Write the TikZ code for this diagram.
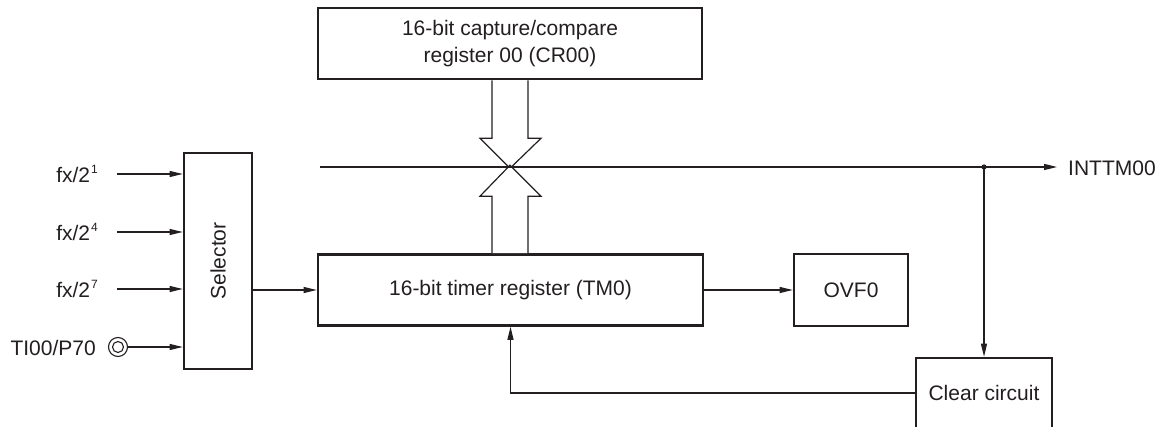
\documentclass[tikz,border=0pt]{standalone}
\usepackage{fontspec}
\setmainfont{Liberation Sans}
\usetikzlibrary{arrows.meta,calc}
\definecolor{ink}{HTML}{231F20}
\newcommand{\supnum}[1]{\kern1pt\raisebox{9pt}{\fontsize{12}{12}\selectfont #1}}
\begin{document}
\begin{tikzpicture}[x=1pt,y=-1pt,
  every node/.style={font=\fontsize{21}{27}\selectfont, text=ink},
  blk/.style={draw=ink, line width=2.6pt, inner sep=0pt, align=center},
  wire/.style={draw=ink, line width=1.2pt},
  arr/.style={wire, -{Triangle[length=13pt,width=6pt]}},
  hollow/.style={draw=ink, line width=1.2pt, fill=white, line join=miter}]
\clip (0,0) rectangle (1164,427);
\fill[white] (0,0) rectangle (1164,427);
% blocks
\node[blk, minimum width=384pt, minimum height=71pt] (cr) at (510,43.5) {16-bit capture/compare\\register 00 (CR00)};
\node[blk, minimum width=385pt, minimum height=71pt] (tm) at (510.5,290) {16-bit timer register (TM0)};
\node[blk, minimum width=114pt, minimum height=72pt] (ovf) at (851,290) {OVF0};
\node[blk, minimum width=68pt, minimum height=216pt] (sel) at (218,261) {};
\node[rotate=90] (seltxt) at (sel.center) {Selector};
\node[blk, minimum width=136pt, minimum height=70pt] (clr) at (984,393) {Clear circuit};
% hollow bus arrows
\draw[hollow] ($(cr.south)+(-18,0)$) -- ($(cr.south)+(-18,58)$) -- ($(cr.south)+(-30,58)$) -- ($(cr.south)+(0,88)$) coordinate (x)
  -- ($(cr.south)+(31,58)$) -- ($(cr.south)+(18,58)$) -- ($(cr.south)+(18,0)$);
\draw[hollow] ($(tm.north)+(-18.5,0)$) -- ($(tm.north)+(-18.5,-57)$) -- ($(tm.north)+(-30.5,-57)$) -- ($(tm.north)+(-0.5,-88)$)
  -- ($(tm.north)+(30.5,-57)$) -- ($(tm.north)+(17.5,-57)$) -- ($(tm.north)+(17.5,0)$);
% main horizontal line
\coordinate (hstart) at (320,167);
\coordinate (j) at (clr.north |- hstart);
\coordinate (oute) at (1057,167);
\draw[wire] (hstart) -- (j);
\draw[arr] (j) -- (oute);
\fill[ink] (j) circle (2.6pt);
\node[anchor=west, inner sep=0pt] (int) at (1068,168) {INTTM00};
\draw[arr] (j) -- (clr.north);
% feedback
\draw[arr] (clr.west) -| (tm.south);
% selector -> tm, tm -> ovf
\draw[arr] (sel.east |- tm.west) -- (tm.west);
\draw[arr] (tm.east) -- (ovf.west);
% inputs
\coordinate (i1) at (117,174);
\coordinate (i2) at (117,232);
\coordinate (i3) at (117,289);
\draw[arr] (i1) -- (sel.west |- i1);
\draw[arr] (i2) -- (sel.west |- i2);
\draw[arr] (i3) -- (sel.west |- i3);
\node[anchor=south east, inner sep=0pt] (l1) at (98,183) {fx/2\supnum{1}};
\node[anchor=south east, inner sep=0pt] (l2) at (98,241) {fx/2\supnum{4}};
\node[anchor=south east, inner sep=0pt] (l3) at (98,298) {fx/2\supnum{7}};
\node[draw=ink, line width=1.1pt, circle, minimum size=19pt, inner sep=0pt] (pin) at (118,347) {};
\draw[ink, line width=1.1pt] (pin.center) circle (5.5pt);
\draw[arr] (pin.east) -- (sel.west |- pin.east);
\node[anchor=east, inner sep=0pt] (l4) at (96,348) {TI00/P70};
\end{tikzpicture}
\end{document}
